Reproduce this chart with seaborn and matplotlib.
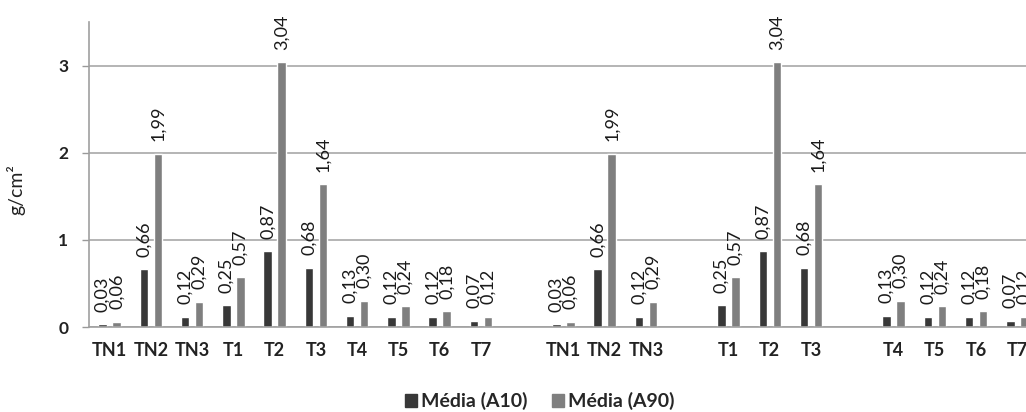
import pandas as pd
import matplotlib
matplotlib.use("Agg")
import matplotlib.pyplot as plt
import seaborn as sns

# dados (os dois blocos repetem os mesmos valores)
categorias = ["TN1", "TN2", "TN3", "T1", "T2", "T3", "T4", "T5", "T6", "T7",
              "", "TN1", "TN2", "TN3", "", "T1", "T2", "T3", "", "T4", "T5", "T6", "T7"]
media_a10 = [0.03, 0.66, 0.12, 0.25, 0.87, 0.68, 0.13, 0.12, 0.12, 0.07,
             None, 0.03, 0.66, 0.12, None, 0.25, 0.87, 0.68, None, 0.13, 0.12, 0.12, 0.07]
media_a90 = [0.06, 1.99, 0.29, 0.57, 3.04, 1.64, 0.30, 0.24, 0.18, 0.12,
             None, 0.06, 1.99, 0.29, None, 0.57, 3.04, 1.64, None, 0.30, 0.24, 0.18, 0.12]
series = ["Média (A10)", "Média (A90)"]
cores = ["#383838", "#7f7f7f"]

# chaves únicas por posição (há rótulos repetidos e posições vazias)
chaves = [f"p{i}" for i in range(len(categorias))]
linhas = []
for chave, a10, a90 in zip(chaves, media_a10, media_a90):
    if a10 is not None:
        linhas.append({"pos": chave, "serie": series[0], "valor": a10})
        linhas.append({"pos": chave, "serie": series[1], "valor": a90})
df = pd.DataFrame(linhas)

sns.set_style("white")
plt.rcParams["font.family"] = ["Lato", "DejaVu Sans"]

fig = plt.figure(figsize=(10.26, 4.12), dpi=100)
ax = fig.add_axes([89 / 1026, 85 / 412, 949 / 1026, 305 / 412])

sns.barplot(data=df, x="pos", y="valor", hue="serie", order=chaves, hue_order=series,
            palette=cores, width=0.68, gap=0.39, saturation=1, legend=False, ax=ax)

for cont in ax.containers:
    ax.bar_label(cont, fmt=lambda v: f"{v:.2f}".replace(".", ","), rotation=90,
                 padding=9, fontsize=13, color="#1a1a1a")

ax.set_ylim(0, 3.5)
ax.set_xlim(-0.5, len(categorias) - 0.5)
ax.set_yticks([0, 1, 2, 3])
ax.set_yticklabels(["0", "1", "2", "3"], fontsize=12.5, fontweight="bold", color="#222222")
ax.set_xticks(range(len(categorias)))
ax.set_xticklabels(categorias, fontsize=13, fontweight="bold", color="#222222")
ax.set_xticks([i - 0.5 for i in range(len(categorias) + 1)], minor=True)
ax.tick_params(axis="x", which="major", length=0, pad=11)
ax.tick_params(axis="x", which="minor", length=5, width=1, color="#999999", direction="out")
ax.tick_params(axis="y", length=5, width=1, color="#999999", direction="out", pad=10, left=True)

ax.yaxis.grid(True, color="#a8a8a8", linewidth=1.2)
ax.set_axisbelow(True)
for lado in ["top", "right"]:
    ax.spines[lado].set_visible(False)
for lado in ["left", "bottom"]:
    ax.spines[lado].set_color("#a0a0a0")
    ax.spines[lado].set_linewidth(1.2)

ax.set_xlabel("")
ax.set_ylabel("g/cm²", fontsize=14, color="#222222")
ax.yaxis.set_label_coords(-0.067, 0.45)

alcas = [plt.Rectangle((0, 0), 1, 1, color=c) for c in cores]
fig.legend(alcas, series, loc="center", bbox_to_anchor=(0.526, 0.026), ncol=2, frameon=False,
           prop={"size": 14, "weight": "bold"}, handlelength=0.6, handleheight=0.6,
           handletextpad=0.2, columnspacing=1.3, borderpad=0)

fig.savefig("out.png", dpi=100)
